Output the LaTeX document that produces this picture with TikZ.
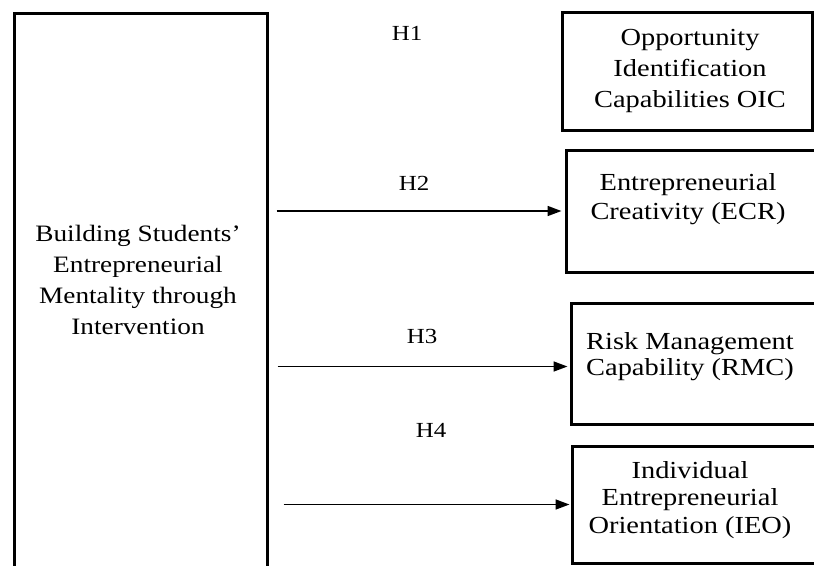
\documentclass[tikz,border=0pt]{standalone}
\usepackage{fontspec}
\setmainfont[FakeStretch=1.16]{Liberation Serif}
\usetikzlibrary{arrows.meta}

\begin{document}
\begin{tikzpicture}[x=1pt,y=-1pt,
  box/.style={draw,line width=3pt,inner sep=0pt},
  txt/.style={align=center,font=\fontsize{24.5}{29}\selectfont},
  hyp/.style={font=\fontsize{21.5}{26}\selectfont},
  link/.style={-{Triangle[length=14pt,width=10pt]},line width=1.6pt}]
\useasboundingbox (0,0) rectangle (814,565);
\clip (0,0) rectangle (814,565);
% left block
\node[box,minimum width=253pt,minimum height=600pt] (bsem) at (140.5,313) {};
\node[txt,font=\fontsize{23.5}{31}\selectfont] (bsemtxt) at (138,280) {Building Students'\\Entrepreneurial\\Mentality through\\Intervention};
% outcome blocks
\node[box,minimum width=250pt,minimum height=118pt] (oic) at (687,71) {};
\node[box,minimum width=250pt,minimum height=122pt] (ecr) at (691,211) {};
\node[box,minimum width=245pt,minimum height=121pt] (rmc) at (693.5,363.5) {};
\node[box,minimum width=244pt,minimum height=117pt] (ieo) at (694,504.5) {};
\node[txt,font=\fontsize{24.5}{31}\selectfont] (oictxt) at (690,71) {Opportunity\\Identification\\Capabilities OIC};
\node[txt] (ecrtxt) at (688,199) {Entrepreneurial\\Creativity (ECR)};
\node[txt,font=\fontsize{24.5}{26}\selectfont] (rmctxt) at (690,357) {Risk Management\\Capability (RMC)};
\node[txt,font=\fontsize{24.5}{27.5}\selectfont] (ieotxt) at (690,500) {Individual\\Entrepreneurial\\Orientation (IEO)};
% hypotheses
\node[hyp] (h1) at (407,33) {H1};
\node[hyp] (h2) at (414,183) {H2};
\node[hyp] (h3) at (422,336) {H3};
\node[hyp] (h4) at (431,430) {H4};
\draw[link,shorten <=8pt,shorten >=3pt] (bsem.east |- ecr.west) -- (ecr.west);
\draw[link,shorten <=9pt,shorten >=2pt] ([yshift=-3pt]bsem.east |- rmc.west) -- ([yshift=-3pt]rmc.west);
\draw[link,shorten <=15pt,shorten >=1pt] (bsem.east |- ieo.west) -- (ieo.west);
\end{tikzpicture}
\end{document}
